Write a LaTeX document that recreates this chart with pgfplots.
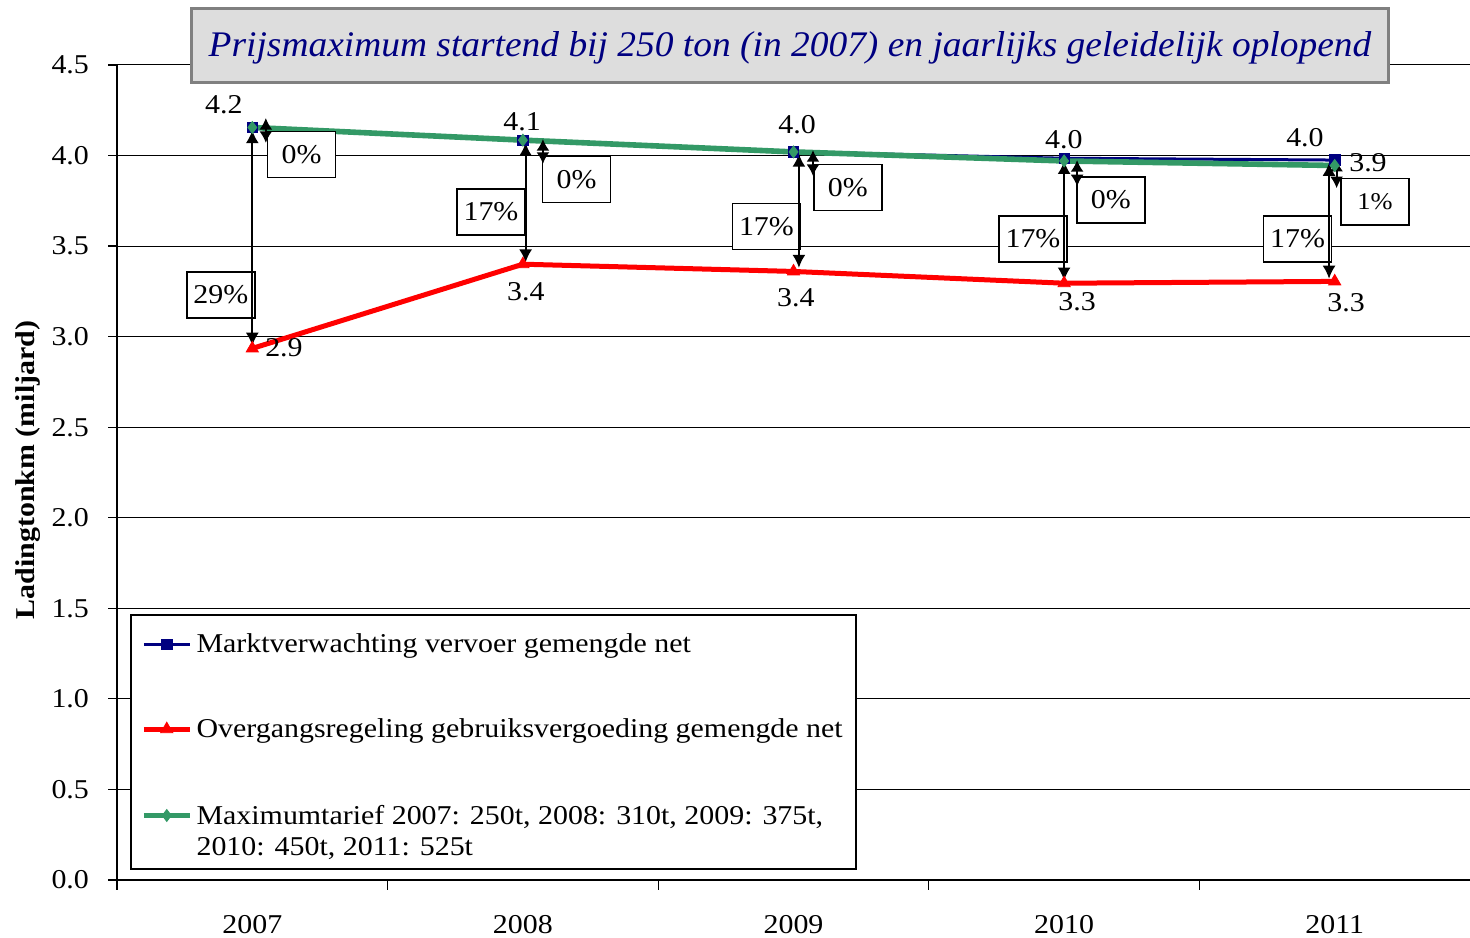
\documentclass[border=0pt]{standalone}
\usepackage{fontspec}
\setmainfont{Liberation Serif}[FakeStretch=1.1]
\newfontfamily\titlefont{Liberation Serif}[FakeStretch=1.04]
\usepackage{pgfplots}
\pgfplotsset{compat=1.18}
\usetikzlibrary{arrows.meta}
\definecolor{navyb}{RGB}{0,0,128}
\definecolor{seag}{RGB}{51,153,102}
\definecolor{titlebg}{RGB}{221,221,221}
\definecolor{titlebd}{RGB}{128,128,128}
\newcommand{\fs}{\fontsize{13.6}{16.5}\selectfont}
\newcommand{\fsm}{\fontsize{12}{14}\selectfont}
\tikzset{pbox/.style={draw=black, fill=white, line width=0.6pt, minimum width=34pt, minimum height=23pt, inner sep=0pt, font=\fs},
  dbl/.style={line width=0.9pt, {Latex[length=6.5pt,width=6.5pt]}-{Latex[length=6.5pt,width=6.5pt]}},
  sdbl/.style={line width=0.9pt, {Latex[length=5.8pt,width=6.5pt]}-{Latex[length=5.8pt,width=6.5pt]}},
  lbl/.style={font=\fs, inner sep=0pt}}
\begin{document}
\begin{tikzpicture}
\begin{axis}[
  scale only axis, width=676.5pt, height=407.5pt,
  xmin=2006.5, xmax=2011.5, ymin=0, ymax=4.5,
  clip=false,
  axis x line*=bottom, axis y line*=left,
  axis line style={black, line width=0.8pt},
  xtick={2007,2008,2009,2010,2011},
  xticklabels={2007,2008,2009,2010,2011},
  minor xtick={2006.5,2007.5,2008.5,2009.5,2010.5},
  major x tick style={draw=none},
  tick align=outside,
  major tick length=4.5pt, minor tick length=5pt,
  tick style={black, line width=0.6pt},
  ytick={0,0.5,1,1.5,2,2.5,3,3.5,4,4.5},
  yticklabel style={anchor=east, xshift=-6pt, /pgf/number format/.cd, fixed, fixed zerofill, precision=1},
  /pgf/number format/assume math mode=true,
  tick label style={font=\fs},
  xticklabel style={yshift=-9.5pt},
  ymajorgrids, grid style={black, line width=0.5pt},
  ylabel={\textbf{Ladingtonkm (miljard)}},
  ylabel style={font=\fs, at={(rel axis cs:-0.066,0.503)}, anchor=center},
  legend style={at={(rel axis cs:0.0115,0.3276)}, anchor=north west, draw=none, fill=none, font=\fs, row sep=27.5pt, inner xsep=4pt, inner ysep=8pt, cells={anchor=west}},
  legend cell align=left,
  legend image code/.code={\draw[mark repeat=2,mark phase=2] plot coordinates {(0pt,0pt)(11.5pt,0pt)(23pt,0pt)};},
]
\addplot[navyb, line width=1.5pt, mark=square*, mark size=2.6pt, mark options={solid, line width=0.4pt}]
  coordinates {(2007,4.155)(2008,4.085)(2009,4.02)(2010,3.985)(2011,3.975)};
\addlegendentry{Marktverwachting vervoer gemengde net}
\addplot[red, line width=2.5pt, mark=triangle*, mark size=3.5pt, mark options={solid, line width=0.4pt}]
  coordinates {(2007,2.935)(2008,3.40)(2009,3.36)(2010,3.295)(2011,3.305)};
\addlegendentry{Overgangsregeling gebruiksvergoeding gemengde net}
\addplot[seag, line width=2.8pt, mark=diamond*, mark size=3pt, mark options={solid, line width=0.4pt}]
  coordinates {(2007,4.155)(2008,4.085)(2009,4.02)(2010,3.97)(2011,3.945)};
\addlegendentry{\def\arraystretch{0.94}\begin{tabular}[t]{@{}l@{}}Maximumtarief 2007: 250t, 2008: 310t, 2009: 375t,\\ 2010: 450t, 2011: 525t\end{tabular}}

% legend frame
\draw[black, fill=white, line width=0.6pt] (axis cs:2006.5517,0.0607) rectangle (axis cs:2009.231,1.463);

% percent boxes
\node[pbox] at (axis cs:2007.182,4.006) {0\%};
\node[pbox] at (axis cs:2006.884,3.230) {29\%};
\node[pbox] at (axis cs:2007.882,3.688) {17\%};
\node[pbox] at (axis cs:2008.198,3.868) {0\%};
\node[pbox] at (axis cs:2008.900,3.608) {17\%};
\node[pbox] at (axis cs:2009.201,3.824) {0\%};
\node[pbox] at (axis cs:2009.885,3.539) {17\%};
\node[pbox] at (axis cs:2010.173,3.755) {0\%};
\node[pbox] at (axis cs:2010.863,3.539) {17\%};
\node[pbox, font=\fsm] at (axis cs:2011.149,3.744) {1\%};

% arrows
\draw[dbl] (axis cs:2007.0,4.14) -- (axis cs:2007.0,2.95);
\draw[dbl] (axis cs:2008.01,4.07) -- (axis cs:2008.01,3.41);
\draw[dbl] (axis cs:2009.02,4.01) -- (axis cs:2009.02,3.38);
\draw[dbl] (axis cs:2010.0,3.97) -- (axis cs:2010.0,3.31);
\draw[dbl] (axis cs:2010.979,3.96) -- (axis cs:2010.979,3.32);
\draw[sdbl] (axis cs:2007.05,4.207) -- (axis cs:2007.05,4.07);
\draw[sdbl] (axis cs:2008.074,4.091) -- (axis cs:2008.074,3.954);
\draw[sdbl] (axis cs:2009.072,4.03) -- (axis cs:2009.072,3.887);
\draw[sdbl] (axis cs:2010.048,3.975) -- (axis cs:2010.048,3.83);
\draw[sdbl] (axis cs:2011.007,3.976) -- (axis cs:2011.007,3.82);

% data labels
\node[lbl] at (axis cs:2006.895,4.279) {4.2};
\node[lbl] at (axis cs:2007.997,4.185) {4.1};
\node[lbl] at (axis cs:2009.013,4.169) {4.0};
\node[lbl] at (axis cs:2009.999,4.086) {4.0};
\node[lbl] at (axis cs:2010.890,4.097) {4.0};
\node[lbl] at (axis cs:2011.123,3.959) {3.9};
\node[lbl] at (axis cs:2007.117,2.937) {2.9};
\node[lbl] at (axis cs:2008.011,3.247) {3.4};
\node[lbl] at (axis cs:2009.009,3.214) {3.4};
\node[lbl] at (axis cs:2010.048,3.191) {3.3};
\node[lbl] at (axis cs:2011.042,3.186) {3.3};

% title
\node[fill=titlebg, draw=titlebd, line width=1.5pt, minimum width=598pt, minimum height=37pt, inner sep=0pt] at (axis cs:2008.987,4.610) {};
\node[inner sep=0pt, text=navyb, font=\titlefont\fontsize{18}{21}\selectfont\itshape] at (axis cs:2008.987,4.594) {Prijsmaximum startend bij 250 ton (in 2007) en jaarlijks geleidelijk oplopend};

\coordinate (bbSW) at (rel axis cs:-0.08647,-0.07117);
\coordinate (bbNE) at (rel axis cs:1,1.07975);
\end{axis}
\pgfresetboundingbox
\path[use as bounding box] (bbSW) rectangle (bbNE);
\end{tikzpicture}
\end{document}
